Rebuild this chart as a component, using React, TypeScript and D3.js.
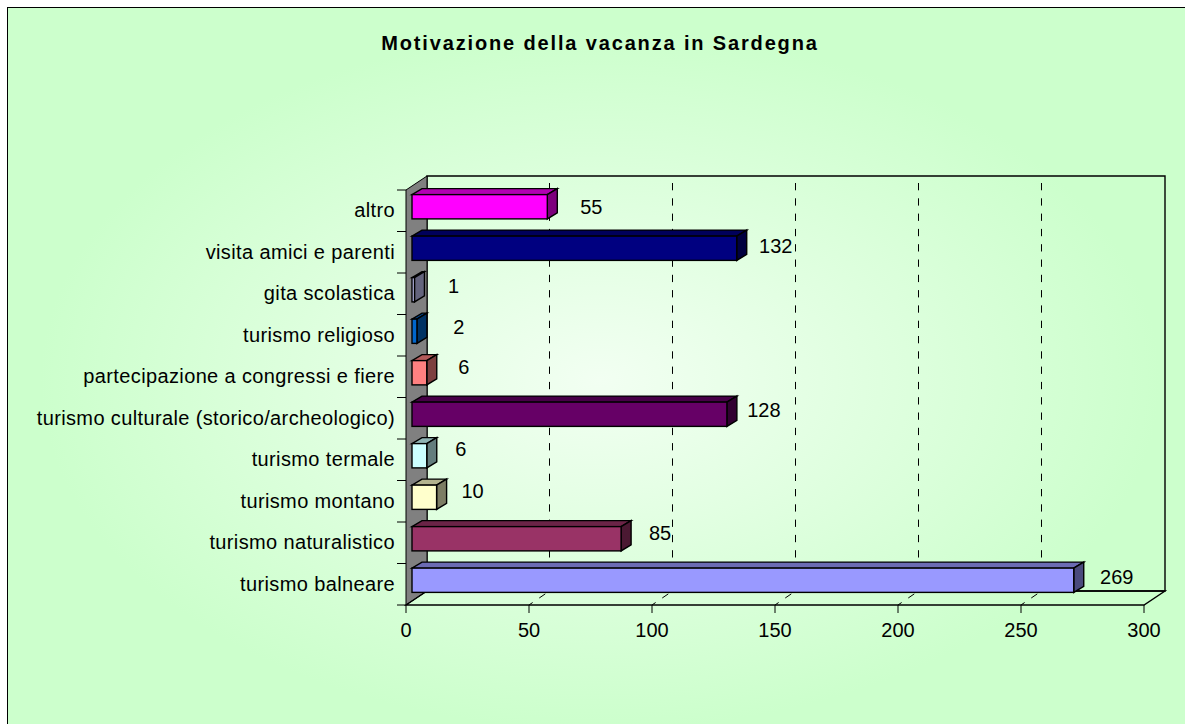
import React, { useRef, useEffect } from "react";
import * as d3 from "d3";

const title = "Motivazione della vacanza in Sardegna";

// bottom to top, as on the axis
const categories = [
  "turismo balneare",
  "turismo naturalistico",
  "turismo montano",
  "turismo termale",
  "turismo culturale (storico/archeologico)",
  "partecipazione a congressi e fiere",
  "turismo religioso",
  "gita scolastica",
  "visita amici e parenti",
  "altro",
];
const values = [269, 85, 10, 6, 128, 6, 2, 1, 132, 55];
const barColors = [
  "#9999ff", "#993366", "#ffffcc", "#ccffff", "#660066",
  "#ff8080", "#0066cc", "#ccccff", "#000080", "#ff00ff",
];
const xTicks = [0, 50, 100, 150, 200, 250, 300];

function App() {
  const ref = useRef<SVGSVGElement>(null);

  useEffect(() => {
    const svg = d3.select(ref.current);
    const width = 1185, height = 724;
    const frame = { left: 7.5, top: 7.5 };
    const plot = { left: 406, right: 1144, top: 190, bottom: 605 };
    const depth = { x: 21, y: -14 };
    const barDepth = { x: 10, y: -6 };
    const barStart = { x: 6, y: -4 };
    const font = "Liberation Sans, Arial, sans-serif";

    const x = d3.scaleLinear().domain([0, 300]).range([plot.left, plot.right]);
    const y = d3
      .scaleBand<string>()
      .domain(categories)
      .range([plot.bottom, plot.top])
      .paddingInner(0.415)
      .paddingOuter(0.2075);
    const band = (plot.bottom - plot.top) / categories.length;

    const defs = svg.append("defs");
    const bg = defs
      .append("radialGradient")
      .attr("id", "bg")
      .attr("gradientUnits", "userSpaceOnUse")
      .attr("cx", 0)
      .attr("cy", 0)
      .attr("r", 1)
      .attr("gradientTransform", "translate(600,380) scale(560,350)");
    bg.append("stop").attr("offset", "0%").attr("stop-color", "#f2fff2");
    bg.append("stop").attr("offset", "100%").attr("stop-color", "#ccffcc");

    svg
      .append("rect")
      .attr("x", frame.left)
      .attr("y", frame.top)
      .attr("width", width + 10)
      .attr("height", height + 10)
      .attr("fill", "url(#bg)")
      .attr("stroke", "#000")
      .attr("stroke-width", 1);

    svg
      .append("text")
      .attr("x", 600)
      .attr("y", 50)
      .attr("text-anchor", "middle")
      .attr("font-family", font)
      .attr("font-size", 20)
      .attr("font-weight", "bold")
      .attr("letter-spacing", 1.85)
      .text(title);

    // back wall, side wall and floor
    const line = d3.line();
    svg
      .append("path")
      .attr("d", line([
        [plot.left + depth.x, plot.top + depth.y],
        [plot.right + depth.x, plot.top + depth.y],
        [plot.right + depth.x, plot.bottom + depth.y],
        [plot.left + depth.x, plot.bottom + depth.y],
      ]) + "Z")
      .attr("fill", "none")
      .attr("stroke", "#000")
      .attr("stroke-width", 1.4);
    svg
      .append("path")
      .attr("d", line([
        [plot.left, plot.top],
        [plot.left + depth.x, plot.top + depth.y],
        [plot.left + depth.x, plot.bottom + depth.y],
        [plot.left, plot.bottom],
      ]) + "Z")
      .attr("fill", "#808080")
      .attr("stroke", "#000")
      .attr("stroke-width", 1);
    svg
      .append("path")
      .attr("d", line([
        [plot.left, plot.bottom],
        [plot.left + depth.x, plot.bottom + depth.y],
        [plot.right + depth.x, plot.bottom + depth.y],
        [plot.right, plot.bottom],
      ]) + "Z")
      .attr("fill", "none")
      .attr("stroke", "#000")
      .attr("stroke-width", 1.4);

    // dashed gridlines on the wall and the floor
    const gridTicks = xTicks.slice(1, -1);
    svg
      .append("g")
      .selectAll("path")
      .data(gridTicks)
      .join("path")
      .attr("d", (d) => line([
        [x(d) + depth.x - 0.5, plot.top + depth.y],
        [x(d) + depth.x - 0.5, plot.bottom + depth.y],
        [x(d), plot.bottom],
      ]))
      .attr("fill", "none")
      .attr("stroke", "#000")
      .attr("stroke-width", 1)
      .attr("stroke-dasharray", "7.3 8")
      .attr("stroke-dashoffset", 8.3);

    // axis ticks
    svg
      .append("g")
      .selectAll("line")
      .data(xTicks)
      .join("line")
      .attr("x1", (d) => x(d))
      .attr("x2", (d) => x(d))
      .attr("y1", plot.bottom)
      .attr("y2", plot.bottom + 8)
      .attr("stroke", "#000");
    svg
      .append("g")
      .selectAll("line")
      .data(d3.range(categories.length + 1))
      .join("line")
      .attr("x1", plot.left - 9)
      .attr("x2", plot.left)
      .attr("y1", (i) => plot.top + i * band)
      .attr("y2", (i) => plot.top + i * band)
      .attr("stroke", "#000");

    svg
      .append("g")
      .selectAll("text")
      .data(xTicks)
      .join("text")
      .attr("x", (d) => x(d))
      .attr("y", 637)
      .attr("text-anchor", "middle")
      .attr("font-family", font)
      .attr("font-size", 20)
      .text((d) => d);
    svg
      .append("g")
      .selectAll("text")
      .data(categories)
      .join("text")
      .attr("x", 395)
      .attr("y", (d) => y(d)! + y.bandwidth() / 2 + 6.5)
      .attr("text-anchor", "end")
      .attr("font-family", font)
      .attr("font-size", 20)
      .attr("letter-spacing", 0.37)
      .text((d) => d);

    // 3D bars, drawn back to front
    const rows = categories.map((c, i) => ({ c, v: values[i], col: barColors[i] })).reverse();
    const bars = svg.append("g").selectAll("g").data(rows).join("g");
    const left = x(0) + barStart.x;
    const right = (d: { v: number }) => x(d.v) + barStart.x;
    const top = (d: { c: string }) => y(d.c)! + barStart.y;
    const bw = y.bandwidth();
    const shade = (c: string, k: number) => d3.rgb(c).darker(k).formatHex();
    bars
      .append("path")
      .attr("d", (d) => line([
        [left, top(d)],
        [left + barDepth.x, top(d) + barDepth.y],
        [right(d) + barDepth.x, top(d) + barDepth.y],
        [right(d), top(d)],
      ]) + "Z")
      .attr("fill", (d) => shade(d.col, 1))
      .attr("stroke", "#000")
      .attr("stroke-width", 1.4);
    bars
      .append("path")
      .attr("d", (d) => line([
        [right(d), top(d)],
        [right(d) + barDepth.x, top(d) + barDepth.y],
        [right(d) + barDepth.x, top(d) + barDepth.y + bw],
        [right(d), top(d) + bw],
      ]) + "Z")
      .attr("fill", (d) => shade(d.col, 2))
      .attr("stroke", "#000")
      .attr("stroke-width", 1.4);
    bars
      .append("rect")
      .attr("x", left)
      .attr("y", (d) => top(d))
      .attr("width", (d) => right(d) - left)
      .attr("height", bw)
      .attr("fill", (d) => d.col)
      .attr("stroke", "#000")
      .attr("stroke-width", 1.4);

    // value labels sit a little unevenly in the original, top row first
    const nudgeX = [5, 0, 0, 3, -2, -2, -5, -3, 0, 4];
    const nudgeY = [4, 2, 0, 0, -2, 0, -3, -2, -2, 1];
    svg
      .append("g")
      .selectAll("text")
      .data(rows)
      .join("text")
      .attr("x", (d, i) => right(d) + 39 + nudgeX[i])
      .attr("y", (d, i) => top(d) + bw / 2 + 3 + nudgeY[i])
      .attr("text-anchor", "middle")
      .attr("font-family", font)
      .attr("font-size", 20)
      .text((d) => d.v);
  }, []);

  return <svg ref={ref} width={1185} height={724} style={{ position: "absolute", left: 0, top: 0 }} />;
}

export default App;
